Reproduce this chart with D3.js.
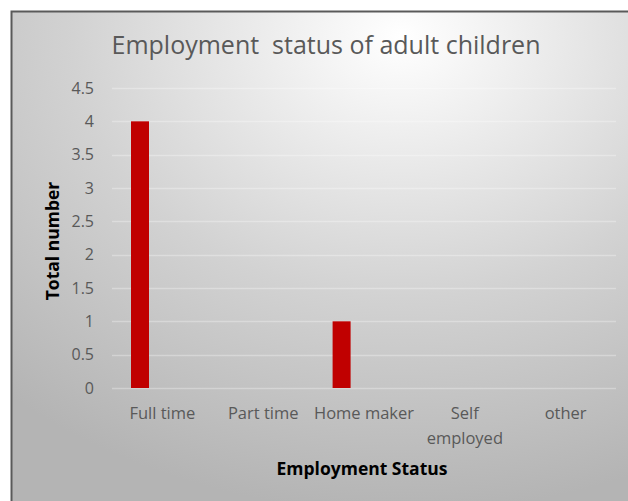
<!DOCTYPE html>
<html>
<head>
<meta charset="utf-8">
<script src="https://d3js.org/d3.v7.min.js"></script>
<style>
  body { margin: 0; background: #fff; }
  text { font-family: "Open Sans", sans-serif; }
</style>
</head>
<body>
<div id="chart"></div>
<script>
// data
var categories = ["Full time", "Part time", "Home maker", "Self employed", "other"]
var totals = [4, 0, 1, 0, 0]
var yTicks = [0, 0.5, 1, 1.5, 2, 2.5, 3, 3.5, 4, 4.5]

var width = 628, height = 501
var margin = { top: 88, right: 12, bottom: 113, left: 112 }
var plotW = width - margin.left - margin.right
var plotH = height - margin.top - margin.bottom

var svg = d3.select("#chart")
    .append("svg")
    .attr("width", width)
    .attr("height", height)

// background gradient like the Excel chart area
var defs = svg.append("defs")
var grad = defs.append("radialGradient")
    .attr("id", "bg")
    .attr("cx", "62%").attr("cy", "5%").attr("r", "95%")
grad.append("stop").attr("offset", "0%").attr("stop-color", "#ffffff")
grad.append("stop").attr("offset", "55%").attr("stop-color", "#d2d2d2")
grad.append("stop").attr("offset", "100%").attr("stop-color", "#b4b4b4")

svg.append("rect")
    .attr("x", 11.5).attr("y", 11.5)
    .attr("width", width).attr("height", height)
    .attr("fill", "url(#bg)")
    .attr("stroke", "#5a5a5a")
    .attr("stroke-width", 2)

svg.append("text")
    .attr("x", 326).attr("y", 54)
    .attr("text-anchor", "middle")
    .style("font-size", "25px")
    .style("fill", "#595959")
    .style("white-space", "pre")
    .attr("xml:space", "preserve")
    .text("Employment  status of adult children")

var g = svg.append("g")
    .attr("transform", "translate(" + margin.left + "," + margin.top + ")")

var x = d3.scaleBand().domain(categories).range([0, plotW])
var y = d3.scaleLinear().domain([0, 4.5]).range([plotH, 0])

// gridlines
g.selectAll(".grid")
    .data(yTicks)
    .enter()
    .append("line")
    .attr("x1", 0).attr("x2", plotW)
    .attr("y1", function (d) { return Math.round(y(d)) + 0.5 })
    .attr("y2", function (d) { return Math.round(y(d)) + 0.5 })
    .attr("stroke", "#ffffff")
    .attr("stroke-opacity", 0.3)
    .attr("stroke-width", 1.5)

// y axis labels
var yAxis = g.append("g")
    .call(d3.axisLeft(y).tickValues(yTicks).tickSize(0).tickPadding(18).tickFormat(d3.format("")))
yAxis.select(".domain").remove()
yAxis.selectAll("text")
    .style("font-size", "16px")
    .style("fill", "#595959")
    .style("font-family", "'Open Sans', sans-serif")

// bars (single series sits left of the category centre)
var barW = 18
var barOffset = 19
g.selectAll(".bar")
    .data(totals)
    .enter()
    .append("rect")
    .attr("x", function (d, i) { return x(categories[i]) + barOffset })
    .attr("y", function (d) { return y(d) })
    .attr("width", barW)
    .attr("height", function (d) { return plotH - y(d) })
    .attr("fill", "#c00000")

// x labels, wrapped like Excel
var xl = g.selectAll(".xl")
    .data(categories)
    .enter()
    .append("text")
    .attr("text-anchor", "middle")
    .attr("transform", function (d) { return "translate(" + (x(d) + x.bandwidth() / 2) + "," + (plotH + 31) + ")" })
    .style("font-size", "16.5px")
    .style("fill", "#595959")
xl.each(function (d) {
    var lines = d == "Self employed" ? ["Self", "employed"] : [d]
    var t = d3.select(this)
    lines.forEach(function (l, k) {
        t.append("tspan").attr("x", 0).attr("dy", k == 0 ? 0 : 25).text(l)
    })
})

// axis titles
svg.append("text")
    .attr("x", 362).attr("y", 475)
    .attr("text-anchor", "middle")
    .style("font-size", "17.5px")
    .style("font-weight", "bold")
    .style("fill", "#000")
    .text("Employment Status")

svg.append("text")
    .attr("transform", "translate(59,241) rotate(-90)")
    .attr("text-anchor", "middle")
    .style("font-size", "17.5px")
    .style("font-weight", "bold")
    .style("fill", "#000")
    .text("Total number")
</script>
</body>
</html>
